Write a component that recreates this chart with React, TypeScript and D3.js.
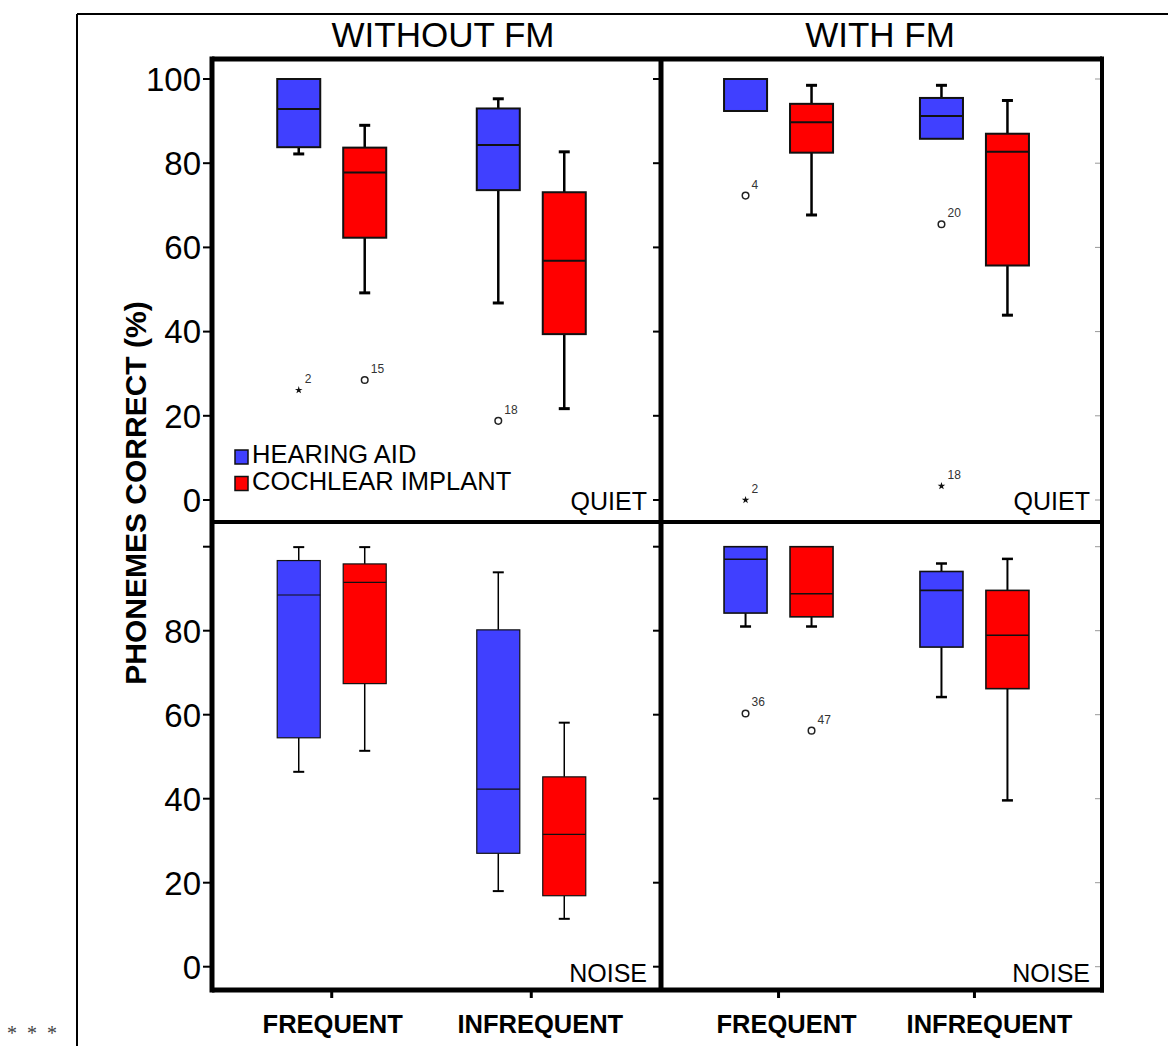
import React from 'react';
import * as d3 from 'd3';

// categories / groups
const categories = ['FREQUENT', 'INFREQUENT'];
const devices = ['HEARING AID', 'COCHLEAR IMPLANT'];
const fmGroups = ['WITHOUT FM', 'WITH FM'];
const conditions = ['QUIET', 'NOISE'];
const deviceColors = ['#4040ff', '#ff0000'];

// box stats: [low whisker, q1, median, q3, high whisker], one per category
const quietWithoutHA = [[82.2, 83.8, 92.9, 100, 100], [46.8, 73.6, 84.3, 93.0, 95.3]];
const quietWithoutCI = [[49.2, 62.3, 77.8, 83.7, 89.0], [21.7, 39.4, 56.8, 73.1, 82.7]];
const quietWithHA = [[92.4, 92.4, 92.4, 100, 100], [85.8, 85.8, 91.2, 95.5, 98.5]];
const quietWithCI = [[67.7, 82.5, 89.7, 94.1, 98.5], [43.9, 55.7, 82.7, 87.0, 94.9]];
const noiseWithoutHA = [[46.4, 54.5, 88.5, 96.7, 99.9], [18.0, 27.0, 42.3, 80.2, 93.9]];
const noiseWithoutCI = [[51.4, 67.4, 91.5, 95.9, 99.9], [11.4, 16.9, 31.5, 45.2, 58.1]];
const noiseWithHA = [[81.0, 84.2, 97.0, 100, 100], [64.2, 76.1, 89.6, 94.1, 96.0]];
const noiseWithCI = [[81.0, 83.3, 88.8, 100, 100], [39.6, 66.2, 78.9, 89.6, 97.1]];

// outliers: [condition, fm, category, device, value, case label, shape]
const outliers: [number, number, number, number, number, string, string][] = [
  [0, 0, 0, 0, 26.1, '2', 'star'],
  [0, 0, 0, 1, 28.5, '15', 'circle'],
  [0, 0, 1, 0, 18.8, '18', 'circle'],
  [0, 1, 0, 0, 72.3, '4', 'circle'],
  [0, 1, 0, 0, 0, '2', 'star'],
  [0, 1, 1, 0, 65.5, '20', 'circle'],
  [0, 1, 1, 0, 3.3, '18', 'star'],
  [1, 1, 0, 0, 60.3, '36', 'circle'],
  [1, 1, 0, 1, 56.2, '47', 'circle'],
];

const topTicks = [0, 20, 40, 60, 80, 100];
const bottomTickLabels = [0, 20, 40, 60, 80];

const FONT = '"Liberation Sans", Arial, Helvetica, sans-serif';

export default function App() {
  const left = 212, mid = 661, right = 1102;
  const top = 59, midY = 522, bottom = 990;

  const yScales = [
    d3.scaleLinear().domain([0, 100]).range([500, 79]),
    d3.scaleLinear().domain([0, 100]).range([966.7, 546.7]),
  ];
  const xScales = [
    d3.scalePoint<string>().domain(categories).range([left, mid - 10]).padding(0.6),
    d3.scalePoint<string>().domain(categories).range([mid, right - 10]).padding(0.6),
  ];
  const dx = d3.scaleBand<string>().domain(devices).range([-54.5, 54.5]).paddingInner(0.348);
  const bw = dx.bandwidth();
  // the category labels sit a little right of their ticks in the original
  const labelShift = [[1, 9], [8, 15]];

  const panels = [
    { c: 0, f: 0, data: [quietWithoutHA, quietWithoutCI], sw: 2, ww: 2.5 },
    { c: 0, f: 1, data: [quietWithHA, quietWithCI], sw: 2, ww: 2.5 },
    { c: 1, f: 0, data: [noiseWithoutHA, noiseWithoutCI], sw: 1.2, ww: 1.5 },
    { c: 1, f: 1, data: [noiseWithHA, noiseWithCI], sw: 1.6, ww: 2 },
  ];

  const star = d3.symbol().type(d3.symbolStar).size(18)();

  return (
    <svg width={1168} height={1046} style={{ position: 'absolute', left: 0, top: 0, background: '#fff' }}>
      {/* outer frame */}
      <line x1={77} y1={14} x2={1168} y2={14} stroke="#000" strokeWidth={2} />
      <line x1={77} y1={14} x2={77} y2={1046} stroke="#000" strokeWidth={2} />

      {/* titles */}
      {fmGroups.map((g, i) => (
        <text key={g} x={i === 0 ? 443 : 880} y={47} textAnchor="middle" fontFamily={FONT} fontSize={35}>{g}</text>
      ))}

      {/* y label */}
      <text transform="translate(146,493) rotate(-90)" textAnchor="middle" fontFamily={FONT} fontSize={30} fontWeight="bold">
        PHONEMES CORRECT (%)
      </text>

      {/* boxes */}
      {panels.map((p, pi) => {
        const y = yScales[p.c];
        const x = xScales[p.f];
        return (
          <g key={pi}>
            {categories.map((cat, ci) =>
              devices.map((dev, di) => {
                const [lo, q1, md, q3, hi] = p.data[di][ci];
                const cx = (x(cat) as number) + (dx(dev) as number) + bw / 2;
                return (
                  <g key={cat + dev}>
                    {hi > q3 && <line x1={cx} x2={cx} y1={y(hi)} y2={y(q3)} stroke="#000" strokeWidth={p.ww} />}
                    {hi > q3 && <line x1={cx - 5.5} x2={cx + 5.5} y1={y(hi)} y2={y(hi)} stroke="#000" strokeWidth={p.ww + 0.5} />}
                    {lo < q1 && <line x1={cx} x2={cx} y1={y(q1)} y2={y(lo)} stroke="#000" strokeWidth={p.ww} />}
                    {lo < q1 && <line x1={cx - 5.5} x2={cx + 5.5} y1={y(lo)} y2={y(lo)} stroke="#000" strokeWidth={p.ww + 0.5} />}
                    <rect x={cx - bw / 2} y={y(q3)} width={bw} height={y(q1) - y(q3)}
                      fill={deviceColors[di]} stroke="#111" strokeWidth={p.sw} />
                    <line x1={cx - bw / 2} x2={cx + bw / 2} y1={y(md)} y2={y(md)} stroke="#111" strokeWidth={p.sw} />
                  </g>
                );
              })
            )}
          </g>
        );
      })}

      {/* outliers */}
      {outliers.map(([c, f, ci, di, v, lab, shape], i) => {
        const cx = (xScales[f](categories[ci]) as number) + (dx(devices[di]) as number) + bw / 2;
        const cy = yScales[c](v);
        return (
          <g key={i}>
            {shape === 'circle'
              ? <circle cx={cx} cy={cy} r={3.3} fill="#fff" stroke="#222" strokeWidth={1.5} />
              : <path d={star as string} transform={`translate(${cx},${cy})`} fill="#111" />}
            <text x={cx + 6} y={cy - 7} fontFamily={FONT} fontSize={12} fill="#333">{lab}</text>
          </g>
        );
      })}

      {/* y ticks, left axis and divider */}
      {yScales.map((y, yi) =>
        topTicks.map(t => (
          <g key={`${yi}-${t}`}>
            <line x1={203} x2={212} y1={y(t)} y2={y(t)} stroke="#000" strokeWidth={2} />
            <line x1={653} x2={661} y1={y(t)} y2={y(t)} stroke="#000" strokeWidth={2} />
            <line x1={1095} x2={1102} y1={y(t)} y2={y(t)} stroke="#999" strokeWidth={1} />
            {(yi === 0 || bottomTickLabels.includes(t)) && (
              <text x={201} y={y(t)} dy="0.36em" textAnchor="end" fontFamily={FONT} fontSize={33}>{t}</text>
            )}
          </g>
        ))
      )}

      {/* condition labels */}
      {conditions.map((c, ci) =>
        [mid - 14, right - 12].map((xr, k) => (
          <text key={c + k} x={xr} y={ci === 0 ? 510 : 982} textAnchor="end" fontFamily={FONT} fontSize={25}>{c}</text>
        ))
      )}

      {/* legend */}
      {devices.map((d, i) => (
        <g key={d}>
          <rect x={235} y={450 + i * 26.5} width={13} height={14} fill={deviceColors[i]} stroke="#111" strokeWidth={1.5} />
          <text x={252} y={463 + i * 26.5} fontFamily={FONT} fontSize={25.5}>{d}</text>
        </g>
      ))}

      {/* panel frames */}
      <line x1={left} x2={right} y1={top} y2={top} stroke="#000" strokeWidth={5} />
      <line x1={left} x2={right} y1={midY} y2={midY} stroke="#000" strokeWidth={4} />
      <line x1={left} x2={right + 2} y1={bottom} y2={bottom} stroke="#000" strokeWidth={5} />
      <line x1={left} x2={left} y1={top - 2.5} y2={bottom + 2.5} stroke="#000" strokeWidth={5} />
      <line x1={mid} x2={mid} y1={top} y2={bottom} stroke="#000" strokeWidth={5} />
      <line x1={right} x2={right} y1={top - 2.5} y2={bottom + 2.5} stroke="#000" strokeWidth={4} />

      {/* x axis ticks and labels */}
      {xScales.map((x, xi) =>
        categories.map((cat, ci) => (
          <g key={xi + cat}>
            <line x1={x(cat)} x2={x(cat)} y1={bottom} y2={bottom + 8} stroke="#000" strokeWidth={3} />
            <text x={(x(cat) as number) + labelShift[xi][ci]} y={1033} textAnchor="middle" fontFamily={FONT} fontSize={25.5} fontWeight="bold">{cat}</text>
          </g>
        ))
      )}

      <text x={7} y={1040} fontFamily='"Liberation Serif", serif' fontSize={20} fill="#444" style={{ whiteSpace: 'pre' }}>{'*  *  *'}</text>
    </svg>
  );
}
